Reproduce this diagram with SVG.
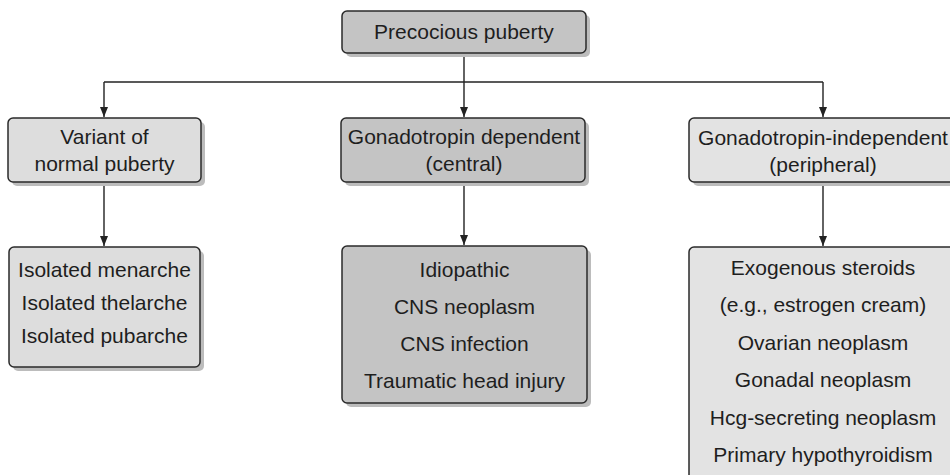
<svg xmlns="http://www.w3.org/2000/svg" width="950" height="475" viewBox="0 0 950 475">
<style>
.sh{fill:#bcbcbc}
.box{stroke:#2a2a2a;stroke-width:1.5}
.dk{fill:#c4c4c4}
.lt{fill:#dddddd}
.lt2{fill:#e3e3e3}
text{font-family:"Liberation Sans",Arial,sans-serif;font-size:21px;fill:#1e1e1e;text-anchor:middle}
.con{stroke:#222;stroke-width:1.4;fill:none}
</style>
<defs>
<marker id="ah" viewBox="0 0 10 8" refX="10" refY="4" markerWidth="10" markerHeight="8" markerUnits="userSpaceOnUse" orient="auto">
<path d="M0,0 L10,4 L0,8 Z" fill="#222"/>
</marker>
</defs>
<g id="connectors">
<line class="con" x1="464" y1="53" x2="464" y2="117" marker-end="url(#ah)"/>
<line class="con" x1="104" y1="82" x2="823" y2="82"/>
<line class="con" x1="104" y1="82" x2="104" y2="117" marker-end="url(#ah)"/>
<line class="con" x1="823" y1="82" x2="823" y2="117" marker-end="url(#ah)"/>
<line class="con" x1="104" y1="182" x2="104" y2="246" marker-end="url(#ah)"/>
<line class="con" x1="464" y1="182" x2="464" y2="245" marker-end="url(#ah)"/>
<line class="con" x1="823" y1="182" x2="823" y2="246" marker-end="url(#ah)"/>
</g>
<g id="top">
<rect class="sh" x="346" y="15" width="244" height="42" rx="5"/>
<rect class="box dk" x="342" y="11" width="244" height="42" rx="5"/>
<text x="464" y="39">Precocious puberty</text>
</g>
<g id="variant">
<rect class="sh" x="12" y="122" width="193" height="64" rx="5"/>
<rect class="box lt" x="8" y="118" width="193" height="64" rx="5"/>
<text x="104.5" y="144">Variant of</text>
<text x="104.5" y="171">normal puberty</text>
</g>
<g id="central">
<rect class="sh" x="345" y="122" width="244" height="64" rx="5"/>
<rect class="box dk" x="341" y="118" width="244" height="64" rx="5"/>
<text x="464" y="144">Gonadotropin dependent</text>
<text x="464" y="171">(central)</text>
</g>
<g id="peripheral">
<rect class="sh" x="693" y="122" width="270" height="64" rx="5"/>
<rect class="box lt2" x="689" y="118" width="270" height="64" rx="5"/>
<text x="823" y="145">Gonadotropin-independent</text>
<text x="823" y="172">(peripheral)</text>
</g>
<g id="variant-list">
<rect class="sh" x="13" y="251" width="191" height="120" rx="5"/>
<rect class="box lt" x="9" y="247" width="191" height="120" rx="5"/>
<text x="104.5" y="277">Isolated menarche</text>
<text x="104.5" y="310">Isolated thelarche</text>
<text x="104.5" y="343">Isolated pubarche</text>
</g>
<g id="central-list">
<rect class="sh" x="346" y="250" width="245" height="157" rx="5"/>
<rect class="box dk" x="342" y="246" width="245" height="157" rx="5"/>
<text x="464.5" y="277">Idiopathic</text>
<text x="464.5" y="314">CNS neoplasm</text>
<text x="464.5" y="351">CNS infection</text>
<text x="464.5" y="388">Traumatic head injury</text>
</g>
<g id="peripheral-list">
<rect class="sh" x="693" y="251" width="270" height="240" rx="5"/>
<rect class="box lt2" x="689" y="247" width="270" height="240" rx="5"/>
<text x="823" y="275">Exogenous steroids</text>
<text x="823" y="312">(e.g., estrogen cream)</text>
<text x="823" y="350">Ovarian neoplasm</text>
<text x="823" y="387">Gonadal neoplasm</text>
<text x="823" y="425">Hcg-secreting neoplasm</text>
<text x="823" y="462">Primary hypothyroidism</text>
</g>
</svg>
